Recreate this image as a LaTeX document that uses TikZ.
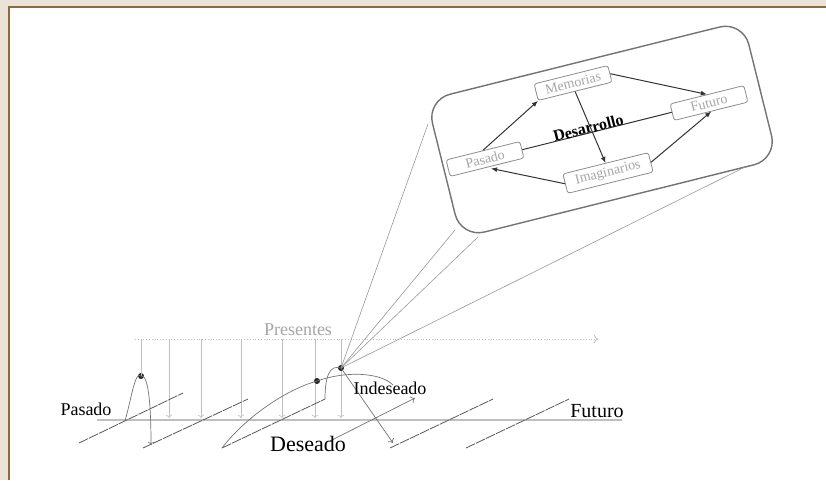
\documentclass[tikz,border=0pt]{standalone}
\usepackage{fontspec}
\setmainfont{Liberation Serif}
\usetikzlibrary{arrows.meta,calc}

\definecolor{paper}{HTML}{ECE3D8}
\definecolor{frameline}{HTML}{8C6A3C}

\begin{document}
\begin{tikzpicture} [x=1pt,y=-1pt,
  lens/.style= {shape=rectangle,rounded corners=24pt,draw=black!55,line width=1.4pt,minimum width=326pt,minimum height=142pt,rotate=14},
  tbox/.style= {shape=rectangle,rounded corners=2.5pt,draw=black!45,line width=0.8pt,rotate=14,minimum width=76pt,minimum height=17pt,inner sep=0,text=black!35,font=\fontsize{14}{15}\selectfont},
  link/.style= {draw=black!80,line width=1pt,-{Latex[length=6pt,width=5pt]}},
  slant/.style= {draw=black!65,line width=0.8pt,dash pattern=on 10pt off 1pt},
  drop/.style= {draw=black!25,line width=0.6pt,-{To[length=3pt,width=6pt]}},
  fan/.style= {draw=black!40,line width=0.6pt},
  path/.style= {draw=black!55,line width=0.7pt},
  blob/.style= {circle,fill=black!85,inner sep=0,minimum size=6pt},
  word/.style= {font=\fontsize{18}{20}\selectfont}]
  \useasboundingbox (0,0) rectangle (826,480);
  % Frame
  \fill[paper] (0,0) rectangle (826,480);
  \fill[white] (9,7) rectangle (826,480);
  \draw[frameline,line width=1.2pt] (9,480) -- (9,7) -- (826,7);
  % Lens
  {\node[lens] (lens) at (602,129.5) { };}
  {\node[tbox] (mem) at (573,83) {Memorias};}
  {\node[tbox] (fut) at (709,103) {Futuro};}
  {\node[tbox] (pas) at (485,159) {Pasado};}
  {\node[tbox,minimum width=88pt,minimum height=20pt] (ima) at (608,173) {Imaginarios};}
  \draw[link] (pas.north) -- (mem.south west);
  \draw[link] (mem.east) -- (fut.north);
  \draw[link] (mem.south) -- (ima.north);
  \draw[link] (ima.east) -- (fut.south);
  \draw[link,shorten >=4pt] (ima.west) -- (pas.south);
  \draw[draw=black!80,line width=1pt] (pas.east) -- node[pos=0.45,sloped,above=-1.5pt,inner sep=0.5pt,font=\fontsize{16}{18}\selectfont\bfseries] (des) {Desarrollo} (fut.west);
  % Presentes
  {\node[word,text=black!35] (lpres) at (298,330) {Presentes};}
  \coordinate (pr0) at (135,339);
  \coordinate (pr1) at (598,339);
  \draw[draw=black!25,line width=0.8pt,dotted,-{To[length=4pt,width=8pt]}] (pr0) -- (pr1);
  % Time line
  \coordinate (tl0) at (97,420);
  \coordinate (tl1) at (622,420);
  \draw[draw=black!25,line width=2.2pt] (tl0) -- (tl1);
  % Drops
  \coordinate (v1) at (169,339); \coordinate (w1) at (169,418);
  \coordinate (v2) at (201,339); \coordinate (w2) at (201,418);
  \coordinate (v3) at (241,339); \coordinate (w3) at (241,418);
  \coordinate (v4) at (282,339); \coordinate (w4) at (282,418);
  \coordinate (v5) at (315,339); \coordinate (w5) at (315,418);
  \coordinate (v6) at (341,339); \coordinate (w6) at (341,418);
  \draw[drop] (v1) -- (w1);
  \draw[drop] (v2) -- (w2);
  \draw[drop] (v3) -- (w3);
  \draw[drop] (v4) -- (w4);
  \draw[drop] (v5) -- (w5);
  \draw[drop] (v6) -- (w6);
  % Slants
  \coordinate (a1) at (79,443);  \coordinate (b1) at (183,393);
  \coordinate (a2) at (143,448); \coordinate (b2) at (248,399);
  \coordinate (a3) at (222,448); \coordinate (b3) at (325,399);
  \coordinate (a4) at (390,448); \coordinate (b4) at (493,399);
  \coordinate (a5) at (466,448); \coordinate (b5) at (569,399);
  \draw[slant] (a1) -- (b1);
  \draw[slant] (a2) -- (b2);
  \draw[slant] (a3) -- (b3);
  \draw[slant] (a4) -- (b4);
  \draw[slant] (a5) -- (b5);
  % Dots
  {\node[blob] (p0) at (141,376) { };}
  {\node[blob] (p1) at (317,381) { };}
  {\node[blob] (p2) at (341,368) { };}
  \coordinate (v0) at (141,339);
  \draw[draw=black!25,line width=0.6pt] (v0) -- (p0.center);
  % Fan
  \coordinate (f1) at (428,124);
  \coordinate (f2) at (455,230);
  \coordinate (f3) at (478,237);
  \coordinate (f4) at (745,167);
  \draw[fan] (p2.center) -- (f1);
  \draw[fan] (p2.center) -- (f2);
  \draw[fan] (p2.center) -- (f3);
  \draw[fan] (p2.center) -- (f4);
  % Paths
  \coordinate (h0) at (125,421);
  \coordinate (h1) at (151,445);
  \draw[path,-{To[length=3pt,width=6pt]}] (h0) .. controls (132,396) and (135,371) .. (p0.center) .. controls (148,374) and (151,402) .. (h1);
  \draw[path] (a3) .. controls (245,418) and (285,390) .. (p1.center);
  \coordinate (e1) at (393,385);
  \draw[path] (p1.center) .. controls (345,371) and (380,372) .. (e1);
  \draw[path] (b3) .. controls (325,378) and (329,364) .. (p2.center);
  \coordinate (e2) at (393,443);
  \draw[path,-{To[length=4pt,width=7pt]}] (p2.center) -- (e2);
  \coordinate (d0) at (330,441);
  \coordinate (d1) at (415,398);
  \draw[path,-{To[length=4pt,width=7pt]}] (d0) -- (d1);
  % Words
  {\node[word] (lpas) at (86,409) {Pasado};}
  {\node[word,font=\fontsize{20}{22}\selectfont] (lfut) at (597,411) {Futuro};}
  {\node[word,font=\fontsize{22}{24}\selectfont] (ldes) at (308,444) {Deseado};}
  {\node[word,inner sep=0] (lind) at (390,388) {Indeseado};}
\end{tikzpicture}
\end{document}
